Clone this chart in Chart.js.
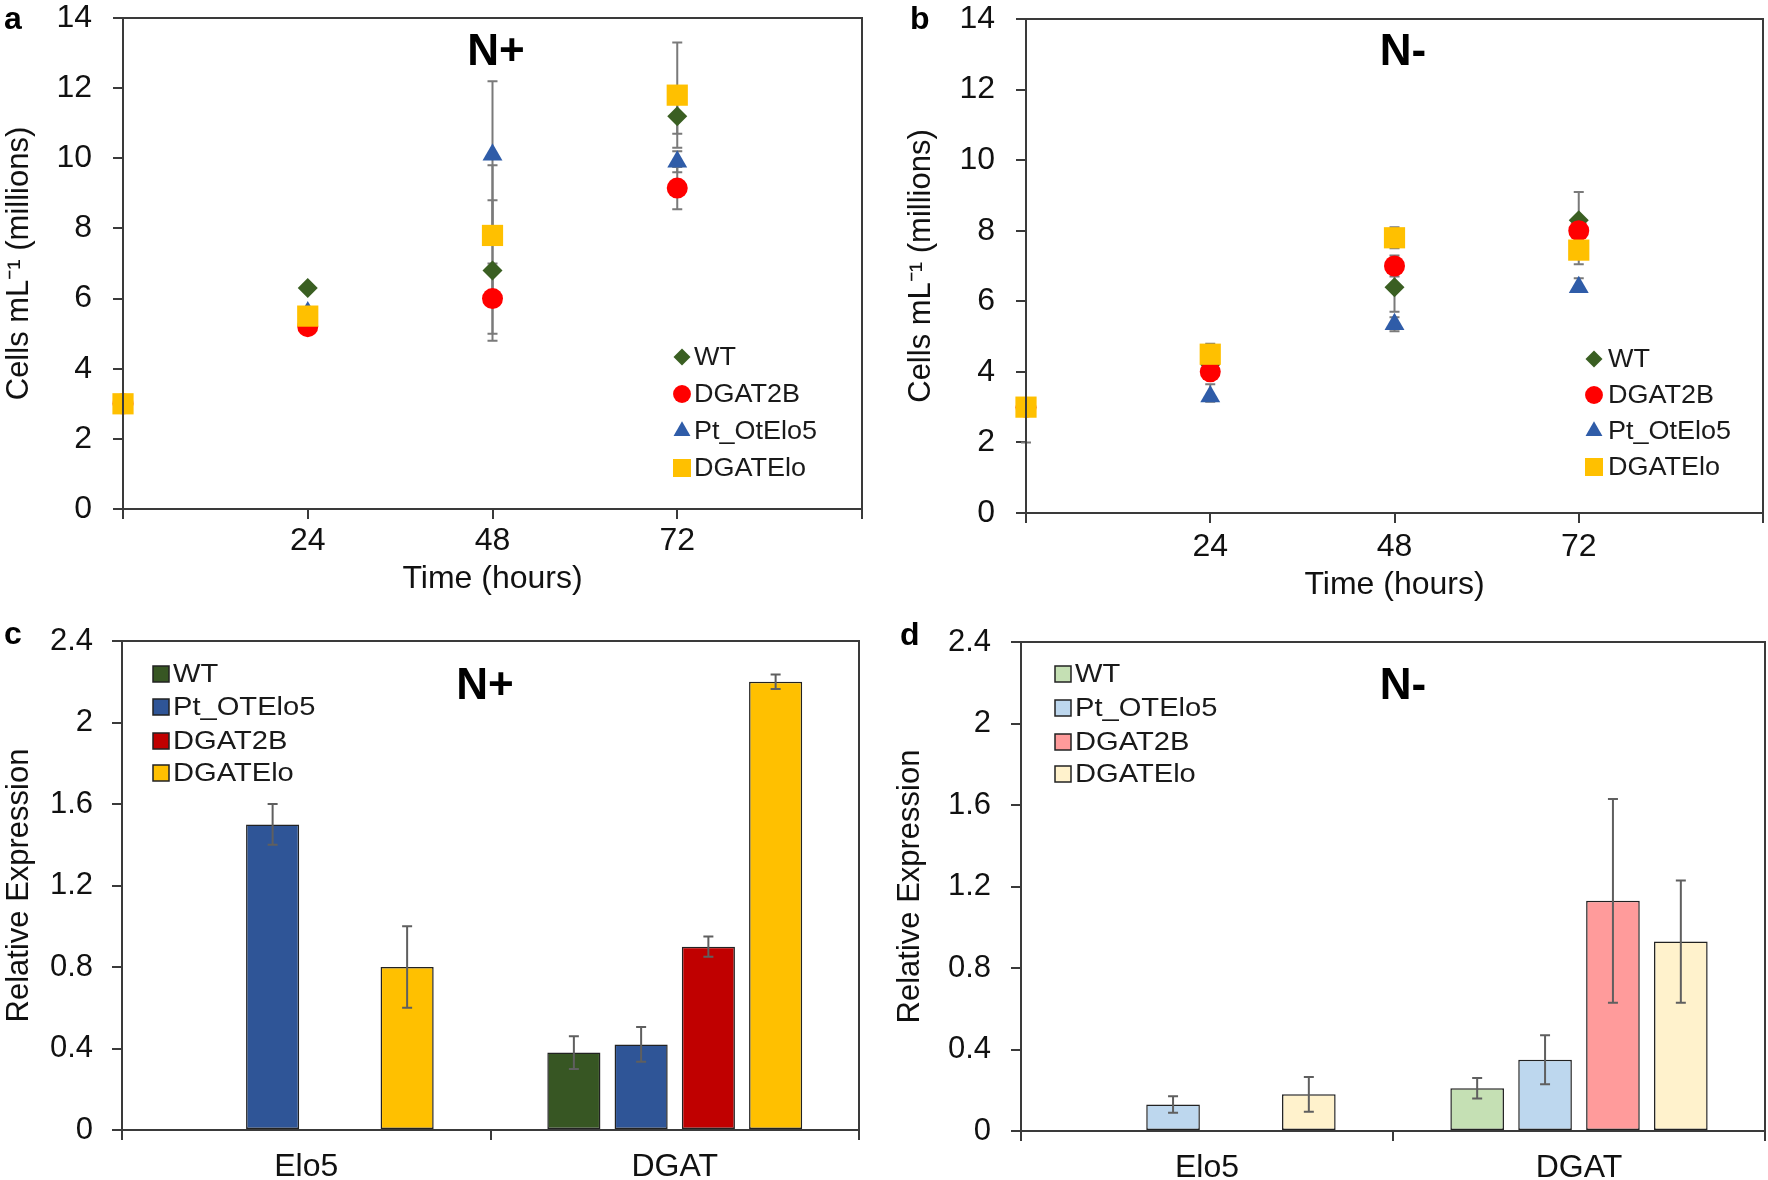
<!DOCTYPE html>
<html lang="en">
<head>
<meta charset="UTF-8">
<title>Growth and relative expression</title>
<script src="https://cdn.jsdelivr.net/npm/chart.js"></script>
<style>
    body {
        margin: 0;
        background: white;
        width: 1768px;
        height: 1180px;
        position: relative;
        overflow: hidden;
    }
    canvas { position: absolute; }
    #chartA { left: 0; top: 0; }
    #chartB { left: 884px; top: 0; }
    #chartC { left: 0; top: 612px; }
    #chartD { left: 884px; top: 612px; }
</style>
</head>
<body>
<canvas id="chartA" width="884" height="612"></canvas>
<canvas id="chartB" width="884" height="612"></canvas>
<canvas id="chartC" width="884" height="568"></canvas>
<canvas id="chartD" width="884" height="568"></canvas>
<script>
    // ---- data: cell counts (millions per mL) ----
    const times = [0, 24, 48, 72];
    const xTicks = [24, 48, 72];
    const growthNames = ['WT', 'DGAT2B', 'Pt_OtElo5', 'DGATElo'];

    // N+ (panel a)
    const wtPlus = [3, 6.3, 6.8, 11.2];
    const dgat2bPlus = [3, 5.2, 6.0, 9.15];
    const ptElo5Plus = [3, 5.6, 10.1, 9.9];
    const dgatEloPlus = [3, 5.5, 7.8, 11.8];
    const wtPlusErr = [0, 0.1, 2.0, 0.5];
    const dgat2bPlusErr = [0, 0.1, 1.0, 0.6];
    const ptElo5PlusErr = [0, 0.1, 2.1, 0.3];
    const dgatEloPlusErr = [0, 0.2, 2.0, 1.5];

    // N- (panel b); [down, up] where the two sides differ
    const wtMinus = [3, 4.2, 6.4, 8.3];
    const dgat2bMinus = [3, 4.0, 7.0, 8.0];
    const ptElo5Minus = [3, 3.3, 5.35, 6.4];
    const dgatEloMinus = [3, 4.5, 7.8, 7.45];
    const wtMinusErr = [[1.0, 0], 0, 0.7, 0.8];
    const dgat2bMinusErr = [0, 0.2, 0.3, 0.3];
    const ptElo5MinusErr = [0, [0.15, 0.35], 0.2, [0.12, 0.25]];
    const dgatEloMinusErr = [0, 0.3, 0.3, 0.4];

    // ---- data: relative expression ----
    const genes = ['Elo5', 'DGAT'];
    const exprNames = ['WT', 'Pt_OTElo5', 'DGAT2B', 'DGATElo'];

    // N+ (panel c)
    const exprWtPlus = [null, 0.38];
    const exprPtPlus = [1.5, 0.42];
    const exprDgat2bPlus = [null, 0.90];
    const exprDgatEloPlus = [0.8, 2.2];
    const exprWtPlusErr = [0, 0.08];
    const exprPtPlusErr = [0.1, 0.085];
    const exprDgat2bPlusErr = [0, 0.05];
    const exprDgatEloPlusErr = [0.2, 0.035];

    // N- (panel d)
    const exprWtMinus = [null, 0.21];
    const exprPtMinus = [0.13, 0.35];
    const exprDgat2bMinus = [null, 1.13];
    const exprDgatEloMinus = [0.18, 0.93];
    const exprWtMinusErr = [0, 0.05];
    const exprPtMinusErr = [0.04, 0.12];
    const exprDgat2bMinusErr = [0, 0.5];
    const exprDgatEloMinusErr = [0.085, 0.3];

    const FONT = "'Liberation Sans', Arial, sans-serif";
    const AXIS = '#3a3a3a';
    Chart.defaults.font.family = FONT;
    Chart.defaults.color = '#111';

    // draws error bars from each dataset's "errors" array using the y scale
    function errorBarPlugin(behind, color, cap) {
        function draw(chart) {
            const ctx = chart.ctx, ys = chart.scales.y;
            ctx.save();
            ctx.strokeStyle = color;
            ctx.lineWidth = 2;
            chart.data.datasets.forEach((ds, i) => {
                if (!ds.errors) return;
                chart.getDatasetMeta(i).data.forEach((el, j) => {
                    const d = ds.data[j];
                    const v = (d !== null && typeof d === 'object') ? d.y : d;
                    const e = ds.errors[j];
                    if (v == null || !e) return;
                    const lo = Array.isArray(e) ? e[0] : e;
                    const hi = Array.isArray(e) ? e[1] : e;
                    const yHi = ys.getPixelForValue(v + hi);
                    const yLo = ys.getPixelForValue(v - lo);
                    ctx.beginPath();
                    ctx.moveTo(el.x, yHi);
                    ctx.lineTo(el.x, yLo);
                    if (hi) { ctx.moveTo(el.x - cap, yHi); ctx.lineTo(el.x + cap, yHi); }
                    if (lo) { ctx.moveTo(el.x - cap, yLo); ctx.lineTo(el.x + cap, yLo); }
                    ctx.stroke();
                });
            });
            ctx.restore();
        }
        return {
            id: 'errorBars',
            beforeDatasetsDraw(chart) { if (behind) draw(chart); },
            afterDatasetsDraw(chart) { if (!behind) draw(chart); }
        };
    }

    // frame, panel letter, N+/N- title and in-plot legend
    function decorPlugin(p) {
        return {
            id: 'decor',
            afterDraw(chart) {
                const ctx = chart.ctx, a = chart.chartArea;
                ctx.save();
                ctx.strokeStyle = AXIS;
                ctx.lineWidth = 2;
                ctx.strokeRect(a.left, a.top, a.right - a.left, a.bottom - a.top);

                ctx.fillStyle = '#000';
                ctx.textBaseline = 'middle';
                ctx.textAlign = 'center';
                ctx.font = 'bold 44px ' + FONT;
                ctx.fillText(p.title, p.titleX, p.titleY);
                ctx.textAlign = 'left';
                ctx.font = 'bold 32px ' + FONT;
                ctx.fillText(p.letter, p.letterX, p.letterY);

                chart.data.datasets.forEach((ds, i) => {
                    const y = p.legendY[i];
                    if (p.boxes) {
                        ctx.fillStyle = ds.backgroundColor;
                        ctx.strokeStyle = '#222';
                        ctx.lineWidth = 1.5;
                        ctx.fillRect(p.legendX - 8, y - 8, 16, 16);
                        ctx.strokeRect(p.legendX - 8, y - 8, 16, 16);
                    } else {
                        ctx.fillStyle = ds.backgroundColor;
                        Chart.helpers.drawPoint(ctx, {
                            pointStyle: ds.pointStyle, radius: ds.pointRadius * 0.85,
                            rotation: 0, borderWidth: 0
                        }, p.legendX, y);
                    }
                    ctx.save();
                    ctx.translate(p.legendTextX, y);
                    ctx.scale(p.textStretch, 1);
                    ctx.fillStyle = '#1a1a1a';
                    ctx.font = p.legendFont + 'px ' + FONT;
                    ctx.fillText(ds.label, 0, 1);
                    ctx.restore();
                });
                ctx.restore();
            }
        };
    }

    // fixed y-axis width, and no extra top/bottom room for the tick labels
    function fixY(width) {
        return s => { s.width = width; s.paddingTop = 0; s.paddingBottom = 0; };
    }

    function scatterSet(label, vals, errs, style, radius, color, order) {
        return {
            label: label,
            data: times.map((t, k) => ({ x: t, y: vals[k] })),
            errors: errs,
            pointStyle: style,
            pointRadius: radius,
            pointHoverRadius: radius,
            backgroundColor: color,
            borderColor: color,
            borderWidth: 0,
            showLine: false,
            clip: false,
            order: order
        };
    }

    function growthChart(id, sets, lay, deco) {
        new Chart(document.getElementById(id), {
            type: 'scatter',
            data: { datasets: sets },
            options: {
                responsive: false,
                animation: false,
                devicePixelRatio: 1,
                layout: { autoPadding: false, padding: { left: lay.padLeft, right: lay.padRight, top: lay.padTop, bottom: 0 } },
                plugins: { legend: { display: false }, tooltip: { enabled: false } },
                scales: {
                    x: {
                        type: 'linear', min: 0, max: 96,
                        afterBuildTicks: s => { s.ticks = [0].concat(xTicks, [96]).map(v => ({ value: v })); },
                        ticks: { padding: lay.xTickPad, font: { size: 32 }, callback: v => xTicks.includes(v) ? v : '' },
                        grid: { drawOnChartArea: false, tickLength: 10, color: AXIS, lineWidth: 2 },
                        border: { color: AXIS, width: 2 },
                        title: { display: true, text: 'Time (hours)', font: { size: 32 }, padding: { top: 0, bottom: lay.xTitlePad } },
                        afterFit: s => { s.height = lay.xHeight; }
                    },
                    y: {
                        min: 0, max: 14,
                        ticks: { stepSize: 2, padding: lay.yTickPad, font: { size: 32 } },
                        grid: { drawOnChartArea: false, tickLength: 10, color: AXIS, lineWidth: 2 },
                        border: { color: AXIS, width: 2 },
                        title: { display: true, text: 'Cells mL\u207B\u00B9 (millions)', font: { size: 31 }, padding: { top: 1, bottom: 0 } },
                        afterFit: fixY(lay.yWidth)
                    }
                }
            },
            plugins: [errorBarPlugin(true, '#7a7a7a', 5), decorPlugin(deco)]
        });
    }

    function barSet(label, vals, errs, color) {
        return {
            label: label,
            data: vals,
            errors: errs,
            backgroundColor: color,
            borderColor: '#222',
            borderWidth: 1.5,
            borderSkipped: false,
            categoryPercentage: 0.73,
            barPercentage: 0.79
        };
    }

    function exprChart(id, sets, lay, deco) {
        new Chart(document.getElementById(id), {
            type: 'bar',
            data: { labels: genes, datasets: sets },
            options: {
                responsive: false,
                animation: false,
                devicePixelRatio: 1,
                layout: { autoPadding: false, padding: { left: lay.padLeft, right: lay.padRight, top: lay.padTop, bottom: 0 } },
                plugins: { legend: { display: false }, tooltip: { enabled: false } },
                scales: {
                    x: {
                        ticks: { padding: lay.xTickPad, font: { size: 32 } },
                        grid: { offset: true, drawOnChartArea: false, tickLength: 10, color: AXIS, lineWidth: 2 },
                        border: { color: AXIS, width: 2 },
                        afterFit: s => { s.height = lay.xHeight; }
                    },
                    y: {
                        min: 0, max: 2.4,
                        ticks: { stepSize: 0.4, padding: lay.yTickPad, font: { size: 31 }, callback: v => +v.toFixed(1) },
                        grid: { drawOnChartArea: false, tickLength: 10, color: AXIS, lineWidth: 2 },
                        border: { color: AXIS, width: 2 },
                        title: { display: true, text: 'Relative Expression', font: { size: 31 }, padding: { top: 1, bottom: 0 } },
                        afterFit: fixY(lay.yWidth)
                    }
                }
            },
            plugins: [errorBarPlugin(false, '#5f5f5f', 5), decorPlugin(deco)]
        });
    }

    const GREEN = '#3a5f22', RED = '#ff0000', BLUE = '#2f5ca8', GOLD = '#ffc000';

    growthChart('chartA', [
        scatterSet(growthNames[0], wtPlus, wtPlusErr, 'rectRot', 10, GREEN, 3),
        scatterSet(growthNames[1], dgat2bPlus, dgat2bPlusErr, 'circle', 10.5, RED, 1),
        scatterSet(growthNames[2], ptElo5Plus, ptElo5PlusErr, 'triangle', 11.5, BLUE, 2),
        scatterSet(growthNames[3], dgatEloPlus, dgatEloPlusErr, 'rect', 15, GOLD, 0)
    ], { padLeft: 0, padRight: 22, padTop: 18, yWidth: 123, xHeight: 103, xTickPad: 3, xTitlePad: 14, yTickPad: 21 },
    { title: 'N+', titleX: 496, titleY: 53, letter: 'a', letterX: 4, letterY: 20,
      legendX: 682, legendTextX: 694, legendY: [357, 394, 431, 468], legendFont: 25, textStretch: 1.08 });

    growthChart('chartB', [
        scatterSet(growthNames[0], wtMinus, wtMinusErr, 'rectRot', 10, GREEN, 3),
        scatterSet(growthNames[1], dgat2bMinus, dgat2bMinusErr, 'circle', 10.5, RED, 1),
        scatterSet(growthNames[2], ptElo5Minus, ptElo5MinusErr, 'triangle', 11.5, BLUE, 2),
        scatterSet(growthNames[3], dgatEloMinus, dgatEloMinusErr, 'rect', 15, GOLD, 0)
    ], { padLeft: 18, padRight: 3, padTop: 19, yWidth: 124, xHeight: 99, xTickPad: 5, xTitlePad: 8, yTickPad: 21 },
    { title: 'N-', titleX: 519, titleY: 53, letter: 'b', letterX: 26, letterY: 20,
      legendX: 710, legendTextX: 724, legendY: [359, 395, 431, 467], legendFont: 25, textStretch: 1.08 });

    exprChart('chartC', [
        barSet(exprNames[0], exprWtPlus, exprWtPlusErr, '#375623'),
        barSet(exprNames[1], exprPtPlus, exprPtPlusErr, '#2f5597'),
        barSet(exprNames[2], exprDgat2bPlus, exprDgat2bPlusErr, '#c00000'),
        barSet(exprNames[3], exprDgatEloPlus, exprDgatEloPlusErr, '#ffc000')
    ], { padLeft: 0, padRight: 25, padTop: 29, yWidth: 122, xHeight: 50, xTickPad: 8, yTickPad: 19 },
    { title: 'N+', titleX: 485, titleY: 75, letter: 'c', letterX: 4, letterY: 23, boxes: true,
      legendX: 161, legendTextX: 173, legendY: [62, 95, 129, 161], legendFont: 26, textStretch: 1.12 });

    exprChart('chartD', [
        barSet(exprNames[0], exprWtMinus, exprWtMinusErr, '#c5e0b4'),
        barSet(exprNames[1], exprPtMinus, exprPtMinusErr, '#bdd7ee'),
        barSet(exprNames[2], exprDgat2bMinus, exprDgat2bMinusErr, '#ff9b9b'),
        barSet(exprNames[3], exprDgatEloMinus, exprDgatEloMinusErr, '#fff2cc')
    ], { padLeft: 7, padRight: 3, padTop: 30, yWidth: 130, xHeight: 49, xTickPad: 8, yTickPad: 20 },
    { title: 'N-', titleX: 519, titleY: 75, letter: 'd', letterX: 16, letterY: 24, boxes: true,
      legendX: 179, legendTextX: 191, legendY: [62, 96, 130, 162], legendFont: 26, textStretch: 1.12 });
</script>
</body>
</html>
